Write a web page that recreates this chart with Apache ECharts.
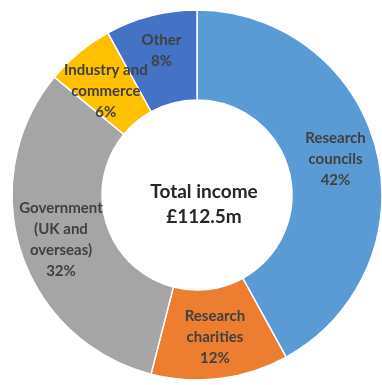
<!DOCTYPE html>
<html>
<head>
<meta charset="utf-8">
<script src="https://cdn.jsdelivr.net/npm/echarts@6/dist/echarts.min.js"></script>
<style>
  html, body { margin: 0; padding: 0; background: #fff; }
  #main { width: 382px; height: 385px; }
</style>
</head>
<body>
<div id="main"></div>
<script type="text/javascript">
// income sources, clockwise from 12 o'clock
var categories = ['Research\ncouncils', 'Research\ncharities', 'Government\n(UK and\noverseas)', 'Industry and\ncommerce', 'Other'];
var shares = [42, 12, 32, 6, 8];
var colours = ['#5B9BD5', '#ED7D31', '#A5A5A5', '#FFC000', '#4472C4'];
var centreText = 'Total income\n£112.5m';

var pieData = categories.map(function (name, i) {
    return { name: name, value: shares[i], itemStyle: { color: colours[i] } };
});
// small nudges so the two top labels sit where the reference has them
pieData[3].label = { offset: [0, 6] };
pieData[4].label = { offset: [0, -6] };

var myChart = echarts.init(document.getElementById('main'));

var option = {
    animation: false,
    title: {
        text: centreText,
        left: 199,
        top: 199,
        textAlign: 'center',
        textVerticalAlign: 'middle',
        textStyle: {
            fontFamily: 'Lato',
            fontWeight: 'bold',
            fontSize: 19,
            lineHeight: 25,
            color: '#262626'
        }
    },
    series: [{
        type: 'pie',
        center: [197, 195],
        radius: [95, 185],
        startAngle: 90,
        clockwise: true,
        silent: true,
        avoidLabelOverlap: false,
        labelLayout: { hideOverlap: false },
        itemStyle: { borderColor: '#fff', borderWidth: 1.5 },
        label: {
            position: 'inside',
            formatter: function (p) { return p.name + '\n' + p.value + '%'; },
            fontFamily: 'Lato',
            fontWeight: 'bold',
            fontSize: 15,
            lineHeight: 21,
            color: '#404040'
        },
        labelLine: { show: false },
        data: pieData
    }]
};

myChart.setOption(option);
</script>
</body>
</html>
